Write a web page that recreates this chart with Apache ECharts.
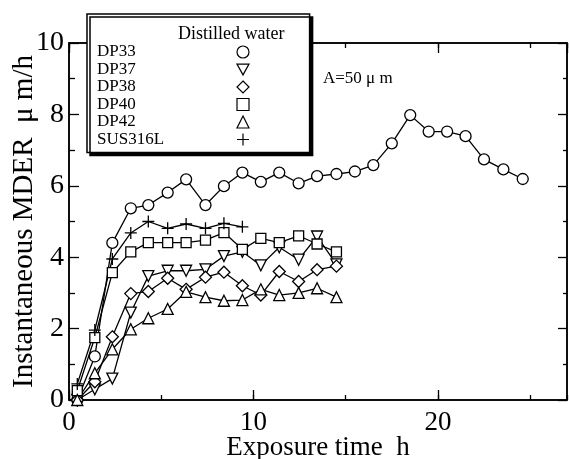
<!DOCTYPE html>
<html>
<head>
<meta charset="utf-8">
<script src="https://cdn.jsdelivr.net/npm/echarts@6/dist/echarts.min.js"></script>
<style>
  html, body { margin: 0; padding: 0; background: #fff; }
  #chart { width: 569px; height: 459px; }
</style>
</head>
<body>
<div id="chart"></div>
<script>
// exposure time (h) for each measurement
const hours = [0.45, 1.4, 2.35, 3.35, 4.3, 5.35, 6.35, 7.4, 8.4, 9.4, 10.4, 11.4, 12.45,
  13.45, 14.5, 15.5, 16.5, 17.5, 18.5, 19.5, 20.5, 21.5, 22.5, 23.55, 24.6];

// instantaneous MDER (um/h)
const dp33 = [0.0, 1.22, 4.4, 5.37, 5.46, 5.81, 6.18, 5.46, 5.99, 6.37, 6.11, 6.37, 6.07,
  6.27, 6.33, 6.4, 6.58, 7.19, 7.98, 7.52, 7.52, 7.39, 6.74, 6.46, 6.19];
const dp37 = [0.0, 0.3, 0.6, 2.45, 3.47, 3.62, 3.62, 3.66, 4.03, 4.15, 3.77, 4.28, 3.93, 4.58, 3.8];
const dp38 = [0.0, 0.51, 1.77, 2.98, 3.04, 3.41, 3.1, 3.44, 3.58, 3.2, 2.94, 3.6, 3.32, 3.65, 3.75];
const dp40 = [0.26, 1.75, 3.57, 4.15, 4.41, 4.41, 4.41, 4.48, 4.69, 4.22, 4.53, 4.41, 4.6, 4.37, 4.15];
const dp42 = [0.0, 0.75, 1.42, 1.98, 2.29, 2.55, 3.03, 2.88, 2.78, 2.8, 3.1, 2.94, 3.0, 3.13, 2.88];
const sus316l = [0.45, 1.96, 3.95, 4.68, 5.0, 4.81, 4.93, 4.81, 4.95, 4.85];

const xTicks = [0, 10, 20];
const yTicks = [0, 2, 4, 6, 8, 10];

const serif = '"Liberation Serif", "DejaVu Serif", serif';
const downTri = 'path://M0,0 L10,0 L5,9 Z';
const plus = 'path://M5,0 L5,10 M0,5 L10,5';

function line(name, vals, symbol, size) {
  return {
    name: name,
    type: 'line',
    xAxisIndex: 0,
    yAxisIndex: 0,
    data: vals.map((v, i) => [hours[i], v]),
    symbol: symbol,
    symbolSize: size,
    lineStyle: { color: '#000', width: 1.3 },
    itemStyle: { color: '#fff', borderColor: '#000', borderWidth: 1.3 },
    emphasis: { disabled: true }
  };
}

const chart = echarts.init(document.getElementById('chart'));
const gridBox = { left: 69, right: 2, top: 43, bottom: 59, outerBoundsMode: 'none', containLabel: false };
const tickLine = { color: '#000', width: 1.3 };
const frame = { show: true, onZero: false, lineStyle: { color: '#000', width: 1.5 } };

chart.setOption({
  animation: false,
  backgroundColor: '#fff',
  grid: [
    Object.assign({ show: true, borderColor: '#000', borderWidth: 1.5, backgroundColor: 'transparent' }, gridBox),
    Object.assign({}, gridBox)
  ],
  xAxis: [
    {
      gridIndex: 0, type: 'value', position: 'bottom', min: 0, max: 27, interval: 10,
      axisLine: frame,
      axisTick: { inside: true, length: 10, lineStyle: tickLine },
      axisLabel: {
        fontSize: 27, fontFamily: serif, color: '#000', margin: 9, showMaxLabel: false,
        formatter: v => (xTicks.indexOf(v) >= 0 ? String(v) : '')
      },
      splitLine: { show: false },
      name: 'Exposure time  h', nameLocation: 'middle', nameGap: 34, nameMoveOverlap: false,
      nameTextStyle: { fontSize: 27, fontFamily: serif, color: '#000' }
    },
    {
      gridIndex: 0, type: 'value', position: 'top', min: 0, max: 27, interval: 10,
      axisLine: frame,
      axisTick: { inside: true, length: 10, lineStyle: tickLine },
      axisLabel: { show: false }, splitLine: { show: false }
    },
    {
      gridIndex: 1, type: 'value', position: 'bottom', min: 0, max: 27, interval: 5,
      axisLine: { show: false, onZero: false },
      axisTick: { inside: true, length: 5, lineStyle: tickLine },
      axisLabel: { show: false }, splitLine: { show: false }
    },
    {
      gridIndex: 1, type: 'value', position: 'top', min: 0, max: 27, interval: 5,
      axisLine: { show: false, onZero: false },
      axisTick: { inside: true, length: 5, lineStyle: tickLine },
      axisLabel: { show: false }, splitLine: { show: false }
    }
  ],
  yAxis: [
    {
      gridIndex: 0, type: 'value', position: 'left', min: 0, max: 10, interval: 2,
      axisLine: frame,
      axisTick: { inside: true, length: 10, lineStyle: tickLine },
      minorTick: { show: true, splitNumber: 2, length: 6, lineStyle: tickLine },
      axisLabel: {
        fontSize: 28, fontFamily: serif, color: '#000', margin: 5,
        formatter: v => (yTicks.indexOf(v) >= 0 ? String(v) : '')
      },
      splitLine: { show: false },
      name: 'Instantaneous MDER  \u03bc m/h', nameLocation: 'middle', nameGap: 30, nameMoveOverlap: false,
      nameTextStyle: { fontSize: 29, fontFamily: serif, color: '#000' }
    },
    {
      gridIndex: 0, type: 'value', position: 'right', min: 0, max: 10, interval: 2,
      axisLine: frame,
      axisTick: { inside: true, length: 9, lineStyle: tickLine },
      minorTick: { show: true, splitNumber: 2, length: 4, lineStyle: tickLine },
      axisLabel: { show: false }, splitLine: { show: false }
    },
    { gridIndex: 1, type: 'value', min: 0, max: 10, show: false }
  ],
  legend: {
    orient: 'vertical',
    left: 87,
    top: 14,
    align: 'right',
    padding: [29.5, 60, 4.5, 10],
    itemGap: 0.5,
    itemWidth: 12,
    itemHeight: 12,
    selectedMode: false,
    backgroundColor: '#fff',
    borderColor: '#000',
    borderWidth: 1.5,
    shadowColor: '#000',
    shadowBlur: 0,
    shadowOffsetX: 3,
    shadowOffsetY: 3,
    itemStyle: { color: '#fff', borderColor: '#000', borderWidth: 1.2 },
    formatter: n => '{a|' + n + '}',
    textStyle: {
      rich: {
        a: { width: 135, align: 'left', fontSize: 17, lineHeight: 17, fontFamily: serif, color: '#000' }
      }
    },
    data: [
      { name: 'DP33', icon: 'circle' },
      { name: 'DP37', icon: downTri },
      { name: 'DP38', icon: 'diamond' },
      { name: 'DP40', icon: 'rect' },
      { name: 'DP42', icon: 'triangle' },
      { name: 'SUS316L', icon: plus }
    ]
  },
  graphic: [
    {
      type: 'text', x: 178, y: 34, z: 100,
      style: { text: 'Distilled water', fontSize: 18, fontFamily: serif, fill: '#000', verticalAlign: 'middle' }
    },
    {
      type: 'text', x: 323, y: 79, z: 100,
      style: { text: 'A=50 \u03bc m', fontSize: 17, fontFamily: serif, fill: '#000', verticalAlign: 'middle' }
    }
  ],
  series: [
    line('DP33', dp33, 'circle', 11),
    line('DP37', dp37, downTri, 11),
    line('DP38', dp38, 'diamond', 12),
    line('DP40', dp40, 'rect', 10),
    line('DP42', dp42, 'triangle', 11),
    line('SUS316L', sus316l, plus, 12)
  ]
});
</script>
</body>
</html>
